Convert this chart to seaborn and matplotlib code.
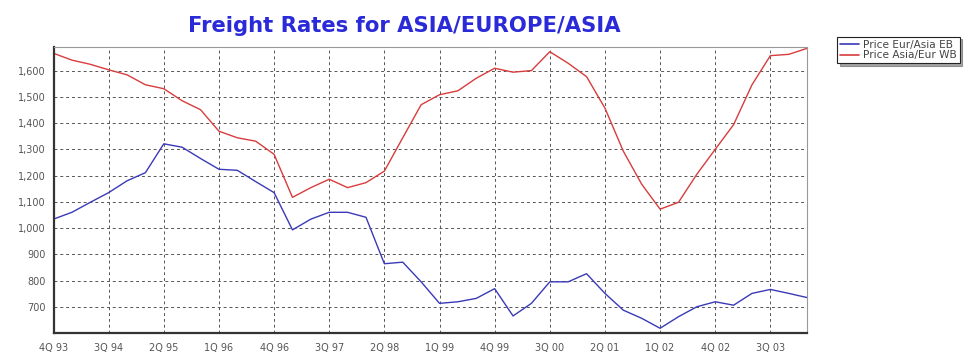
import seaborn as sns
import pandas as pd
import matplotlib.pyplot as plt
from matplotlib.ticker import FuncFormatter, MultipleLocator

# quarterly freight rates, 4Q 93 .. 1Q 04
quarters = list(range(42))
tick_labels = ["4Q 93", "3Q 94", "2Q 95", "1Q 96", "4Q 96", "3Q 97", "2Q 98",
               "1Q 99", "4Q 99", "3Q 00", "2Q 01", "1Q 02", "4Q 02", "3Q 03"]

eur_asia_eb = [1034, 1060, 1098, 1135, 1180, 1211, 1321, 1308, 1265, 1224,
               1220, 1177, 1135, 993, 1034, 1060, 1060, 1041, 864, 870,
               795, 713, 719, 732, 769, 665, 713, 795, 795, 826,
               751, 687, 656, 618, 662, 700, 719, 706, 751, 766,
               751, 735]
asia_eur_wb = [1666, 1640, 1624, 1603, 1584, 1546, 1531, 1485, 1451, 1369,
               1344, 1331, 1281, 1117, 1154, 1186, 1154, 1173, 1217, 1344,
               1470, 1508, 1523, 1571, 1609, 1594, 1600, 1672, 1628, 1577,
               1457, 1293, 1167, 1072, 1098, 1205, 1300, 1394, 1546, 1657,
               1662, 1685]

series_names = ["Price Eur/Asia EB", "Price Asia/Eur WB"]

df = pd.DataFrame({
    "quarter": quarters * 2,
    "price": eur_asia_eb + asia_eur_wb,
    "series": [series_names[0]] * len(quarters) + [series_names[1]] * len(quarters),
})

sns.set_style("white")
plt.rcParams['font.family'] = ['DejaVu Sans']

fig = plt.figure(figsize=(9.8, 3.56), dpi=100)
ax = fig.add_axes([0.0546, 0.0646, 0.769, 0.8034])

sns.lineplot(data=df, x="quarter", y="price", hue="series", ax=ax,
             palette={series_names[0]: "#3a3ab8", series_names[1]: "#d83c3c"},
             linewidth=1.0, legend=False)

ax.set_xlim(0, 41)
ax.set_ylim(600, 1690)
ax.set_xticks(range(0, 42, 3))
ax.set_xticklabels(tick_labels)
ax.xaxis.set_minor_locator(MultipleLocator(1))
ax.set_yticks(range(700, 1700, 100))
ax.yaxis.set_major_formatter(FuncFormatter(lambda v, p: f"{int(v):,}"))
ax.set_xlabel("")
ax.set_ylabel("")

ax.grid(True, which="major", linestyle=(0, (3, 3)), color="#555555", linewidth=0.7)
ax.tick_params(axis="both", which="major", labelsize=7, labelcolor="#555555",
               color="#444444", length=4, width=0.8, direction="inout")
ax.tick_params(axis="x", which="minor", length=2, width=0.6, direction="in", color="#555555")
ax.tick_params(axis="x", which="major", pad=5)

for side in ["left", "bottom"]:
    ax.spines[side].set_color("#333333")
    ax.spines[side].set_linewidth(1.6)
for side in ["top", "right"]:
    ax.spines[side].set_color("#999999")
    ax.spines[side].set_linewidth(0.8)

fig.text(0.413, 0.927, "Freight Rates for ASIA/EUROPE/ASIA", ha="center", va="center",
         fontsize=15.2, fontweight="bold", color="#2a2ad8")

handles = [plt.Line2D([], [], color="#3a3ab8", lw=1.2),
           plt.Line2D([], [], color="#d83c3c", lw=1.2)]
leg = fig.legend(handles, series_names, loc="upper left", bbox_to_anchor=(0.849, 0.912),
                 fontsize=7.6, frameon=True, fancybox=False, shadow=True,
                 handlelength=1.8, handletextpad=0.3, borderpad=0.3, labelspacing=0.05,
                 labelcolor="#444444")
leg.get_frame().set_edgecolor("#222222")
leg.get_frame().set_linewidth(0.8)

fig.savefig("out.png", dpi=100)
